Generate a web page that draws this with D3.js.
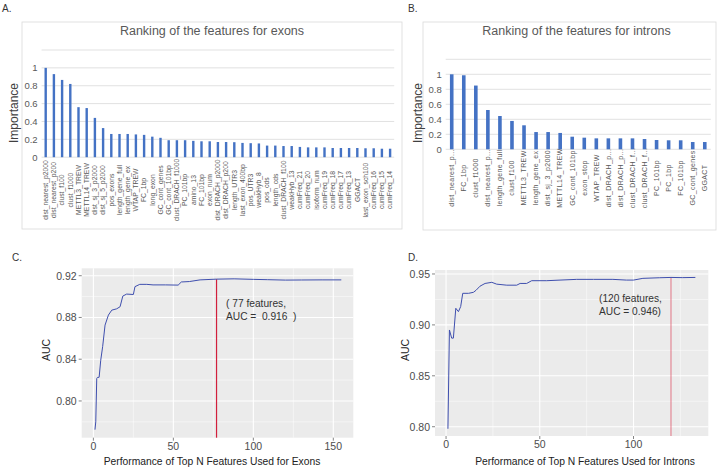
<!DOCTYPE html>
<html><head><meta charset="utf-8">
<script src="https://cdn.jsdelivr.net/npm/d3@7/dist/d3.min.js"></script>
<style>
body{margin:0;background:#fff;}
svg{display:block;font-family:"Liberation Sans",Arial,sans-serif;}
</style></head>
<body><svg id="c" width="722" height="470"></svg>
<script>
// ---------- DATA ----------
const exonFeatures = ["dist_nearest_p2000","dist_nearest_p200","clust_f100","clust_f1000","METTL3_TREW","METTL14_TREW","dist_sj_3_p2000","dist_sj_5_p2000","pos_exons","length_gene_full","length_gene_ex","WTAP_TREW","FC_1bp","long_exon","GC_cont_genes","GC_cont_101bp","clust_DRACH_f1000","PC_101bp","amino_13","FC_101bp","exon_num","dist_DRACH_p2000","dist_DRACH_p200","length_UTR3","last_exon_400bp","pos_UTR3","weakHyb_8","pos_cds","length_cds","clust_DRACH_f100","weakHyb_13","cumFreq_21","cumFreq_20","isoform_num","cumFreq_19","cumFreq_18","cumFreq_17","cumFreq_13","GGACT","last_exon_sch100","cumFreq_16","cumFreq_15","cumFreq_14"];
const exonImportance = [1.0,0.93,0.865,0.82,0.56,0.55,0.44,0.326,0.26,0.26,0.26,0.255,0.25,0.23,0.217,0.19,0.19,0.19,0.183,0.178,0.178,0.17,0.17,0.168,0.16,0.157,0.154,0.13,0.13,0.125,0.125,0.115,0.11,0.11,0.11,0.103,0.103,0.103,0.103,0.1,0.1,0.095,0.095];

const intronFeatures = ["dist_nearest_p...","FC_1bp","clust_f1000","dist_nearest_p...","length_gene_full","clust_f100","METTL3_TREW","length_gene_ex","dist_sj_3_p2000","METTL14_TREW","GC_cont_101bp","exon_stop","WTAP_TREW","dist_DRACH_p...","dist_DRACH_p...","clust_DRACH_f...","clust_DRACH_f...","PC_101bp","PC_1bp","FC_101bp","GC_cont_genes","GGACT"];
const intronImportance = [1.0,0.987,0.85,0.524,0.444,0.378,0.32,0.23,0.23,0.218,0.168,0.155,0.146,0.146,0.146,0.146,0.137,0.124,0.12,0.12,0.097,0.097];

const importanceTicks = [0,0.2,0.4,0.6,0.8,1];
const importanceGrid = [0,0.2,0.4,0.6,0.8,1,1.2];

const exonN   = [1,1.5,2.1,2.5,3.6,4.6,5.8,7.3,9.4,11.5,14.6,16.7,18.4,20.8,25,26,29,33.4,37.3,45,53,55,60,66.7,77,88,100,109,120,130,143,155];
const exonAUC = [0.7725,0.78,0.8215,0.8225,0.8227,0.839,0.852,0.8727,0.8823,0.887,0.8883,0.8903,0.9005,0.9024,0.902,0.9095,0.9117,0.9117,0.9112,0.9112,0.911,0.914,0.9144,0.9160,0.9167,0.917,0.9165,0.9162,0.9158,0.9159,0.916,0.9160];
const exonBest = {n:77, auc:0.9167};

const intronN   = [1,1.8,3,3.9,5.2,6.6,7.8,8.9,12,14.6,16,18.1,20.8,24.4,27,32.4,37.7,39.5,43,45.7,53.7,60.8,69.7,78.6,89,96.2,100,105,114,120,126,133];
const intronAUC = [0.798,0.895,0.887,0.887,0.9163,0.913,0.918,0.931,0.931,0.932,0.934,0.938,0.9407,0.9418,0.940,0.939,0.939,0.9407,0.9407,0.9434,0.9434,0.944,0.9447,0.9447,0.9447,0.944,0.944,0.9457,0.9463,0.9466,0.9464,0.9466];
const intronBest = {n:120, auc:0.9466};

const cXTicks = [0,50,100,150], cXMinor=[25,75,125];
const cYTicks = [0.80,0.84,0.88,0.92], cYMinor=[0.78,0.82,0.86,0.90];
const dXTicks = [0,50,100], dXMinor=[25,75,125];
const dYTicks = [0.80,0.85,0.90,0.95], dYMinor=[0.825,0.875,0.925];

// ---------- DRAW ----------
const svg = d3.select("#c");
const BAR = "#4472C4", GRIDL = "#D9D9D9", TXT = "#595959";

function panelLetter(t,x,y){
  svg.append("text").attr("x",x).attr("y",y).attr("font-size",10).attr("fill","#333").text(t);
}
panelLetter("A.",2,12); panelLetter("B.",408,12); panelLetter("C.",12,261); panelLetter("D.",408,261);

function barPanel(o){
  svg.append("rect").attr("x",o.box[0]).attr("y",o.box[1]).attr("width",o.box[2]-o.box[0]).attr("height",o.box[3]-o.box[1])
    .attr("fill","#fff").attr("stroke",GRIDL).attr("stroke-width",0.8);
  svg.append("text").attr("x",o.titleX).attr("y",34.5).attr("text-anchor","middle").attr("font-size",12.5).attr("fill",TXT).text(o.title);
  const x = d3.scaleBand().domain(d3.range(o.labels.length)).range(o.xr).paddingInner(0);
  const y = d3.scaleLinear().domain([0,1.2]).range(o.yr);
  const g = svg.append("g");
  g.selectAll("line.grid").data(importanceGrid).join("line")
    .attr("x1",o.xr[0]).attr("x2",o.xr[1]).attr("y1",d=>y(d)).attr("y2",d=>y(d))
    .attr("stroke",GRIDL).attr("stroke-width",0.8);
  g.selectAll("text.yt").data(importanceTicks).join("text")
    .attr("x",o.xr[0]-4).attr("y",d=>y(d)+3.5).attr("text-anchor","end").attr("font-size",9.5).attr("fill",TXT).text(d=>d);
  g.selectAll("rect.bar").data(o.values).join("rect")
    .attr("x",(d,i)=>x(i)+x.bandwidth()/2-o.bw/2).attr("width",o.bw)
    .attr("y",d=>y(d)).attr("height",d=>y(0)-y(d)).attr("fill",BAR);
  g.selectAll("text.xl").data(o.labels).join("text")
    .attr("transform",(d,i)=>`translate(${x(i)+x.bandwidth()/2+2.3},${o.labelY}) rotate(-90)`)
    .attr("text-anchor","middle").attr("font-size",o.lfs).attr("letter-spacing",o.ls).attr("fill",TXT).text(d=>d);
  svg.append("text").attr("transform",`translate(${o.ytX},${o.ytY}) rotate(-90)`).attr("text-anchor","middle")
    .attr("font-size",12).attr("fill","#404040").text("Importance");
}
barPanel({box:[22,22,402,229],title:"Ranking of the features for exons",titleX:212,labels:exonFeatures,values:exonImportance,
  xr:[41.6,394.2],yr:[157.2,50],bw:2.4,labelY:190,lfs:6.8,ls:0,ytX:18,ytY:113});
barPanel({box:[423,22,716,230],title:"Ranking of the features for introns",titleX:576.5,labels:intronFeatures,values:intronImportance,
  xr:[445.7,710.8],yr:[149.3,59.3],bw:3.6,labelY:178,lfs:7,ls:0.35,ytX:422,ytY:113});

function linePanel(o){
  const x = d3.scaleLinear().domain(o.xd).range([o.r[0],o.r[2]]);
  const y = d3.scaleLinear().domain(o.yd).range([o.r[3],o.r[1]]);
  const g = svg.append("g");
  g.append("rect").attr("x",o.r[0]).attr("y",o.r[1]).attr("width",o.r[2]-o.r[0]).attr("height",o.r[3]-o.r[1]).attr("fill","#EBEBEB");
  g.selectAll("line.xm").data(o.xMinor).join("line").attr("x1",d=>x(d)).attr("x2",d=>x(d)).attr("y1",o.r[1]).attr("y2",o.r[3]).attr("stroke","#fff").attr("stroke-width",0.5);
  g.selectAll("line.ym").data(o.yMinor).join("line").attr("y1",d=>y(d)).attr("y2",d=>y(d)).attr("x1",o.r[0]).attr("x2",o.r[2]).attr("stroke","#fff").attr("stroke-width",0.5);
  g.selectAll("line.xM").data(o.xTicks).join("line").attr("x1",d=>x(d)).attr("x2",d=>x(d)).attr("y1",o.r[1]).attr("y2",o.r[3]).attr("stroke","#fff").attr("stroke-width",1.1);
  g.selectAll("line.yM").data(o.yTicks).join("line").attr("y1",d=>y(d)).attr("y2",d=>y(d)).attr("x1",o.r[0]).attr("x2",o.r[2]).attr("stroke","#fff").attr("stroke-width",1.1);
  // ticks
  g.selectAll("line.xt").data(o.xTicks).join("line").attr("x1",d=>x(d)).attr("x2",d=>x(d)).attr("y1",o.r[3]).attr("y2",o.r[3]+3).attr("stroke","#333").attr("stroke-width",0.6);
  g.selectAll("line.yt").data(o.yTicks).join("line").attr("y1",d=>y(d)).attr("y2",d=>y(d)).attr("x1",o.r[0]-3).attr("x2",o.r[0]).attr("stroke","#333").attr("stroke-width",0.6);
  g.selectAll("text.xt").data(o.xTicks).join("text").attr("x",d=>x(d)).attr("y",o.r[3]+12).attr("text-anchor","middle").attr("font-size",10.5).attr("fill","#4D4D4D").text(d=>d);
  g.selectAll("text.yt").data(o.yTicks).join("text").attr("x",o.r[0]-5).attr("y",d=>y(d)+3.8).attr("text-anchor","end").attr("font-size",10.5).attr("fill","#4D4D4D").text(o.fmt);
  // red segment
  g.append("line").attr("x1",x(o.best.n)).attr("x2",x(o.best.n)).attr("y1",y(o.best.auc)).attr("y2",o.r[3]).attr("stroke",o.red).attr("stroke-width",o.redW);
  // curve
  const line = d3.line().x((d,i)=>x(o.n[i])).y(d=>y(d)).curve(d3.curveLinear);
  g.append("path").attr("d",line(o.auc)).attr("fill","none").attr("stroke","#3F4FAE").attr("stroke-width",1);
  // annotation
  o.note.forEach((t,i)=>g.append("text").attr("x",o.noteX).attr("y",o.noteY+i*13).attr("font-size",10.2).attr("fill","#333").attr("xml:space","preserve").text(t));
  svg.append("text").attr("x",o.xtX).attr("y",465).attr("text-anchor","middle").attr("font-size",10.3).attr("fill","#222").text(o.xtitle);
  svg.append("text").attr("transform",`translate(${o.ytX},350) rotate(-90)`).attr("text-anchor","middle").attr("font-size",10.5).attr("fill","#222").text("AUC");
}
linePanel({r:[81.7,268.3,353.3,437.7],xd:[-7.3,162.5],yd:[0.7648,0.9271],xTicks:cXTicks,xMinor:cXMinor,yTicks:cYTicks,yMinor:cYMinor,
  fmt:d3.format(".2f"),n:exonN,auc:exonAUC,best:exonBest,red:"#D21F3C",redW:1.2,note:["( 77 features,","AUC =  0.916  )"],noteX:226,noteY:307,
  xtitle:"Performance of Top N Features Used for Exons",xtX:212,ytX:50});
linePanel({r:[435,270,708.3,436],xd:[-5.9,139.9],yd:[0.7909,0.9539],xTicks:dXTicks,xMinor:dXMinor,yTicks:dYTicks,yMinor:dYMinor,
  fmt:d3.format(".2f"),n:intronN,auc:intronAUC,best:intronBest,red:"#E0566A",redW:0.8,note:["(120 features,","AUC = 0.946)"],noteX:599,noteY:302,
  xtitle:"Performance of Top N Features Used for Introns",xtX:585,ytX:409});
</script></body></html>
